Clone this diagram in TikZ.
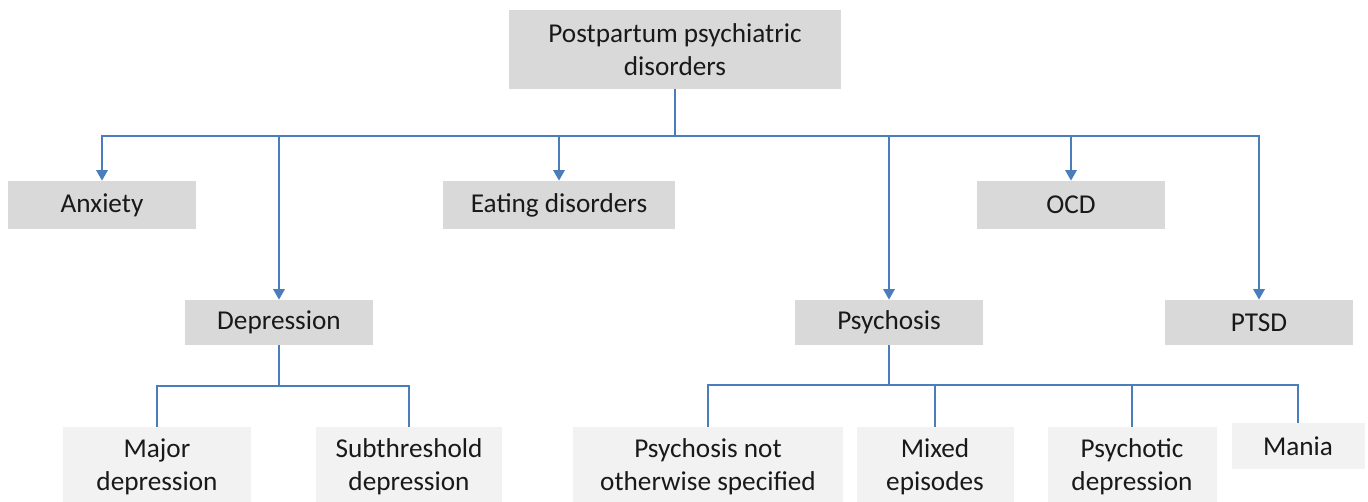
\documentclass[tikz,border=0pt]{standalone}
\usepackage{fontspec}
\setmainfont{Carlito}
\usetikzlibrary{positioning,arrows.meta}
\definecolor{lineblue}{HTML}{4A7EBB}
\definecolor{boxgray}{HTML}{D9D9D9}
\definecolor{leafgray}{HTML}{F2F2F2}
\begin{document}
\begin{tikzpicture}[x=0.02cm, y=-0.02cm,
    font=\fontsize{15.5}{18.8}\selectfont,
    bb/.style={%
      rectangle, draw=none, fill=boxgray, text=black!90,
      inner sep=0pt, align=center
    },
    leaf/.style={%
      bb, fill=leafgray
    },
    conn/.style={draw=lineblue, line width=1.1pt},
    arr/.style={conn, -{Triangle[width=6.5pt,length=6pt]}}
]
    \useasboundingbox (0,0) rectangle (1368,501);

    % top level
    \node[bb, minimum width=6.66cm, minimum height=1.58cm] (root) at (675,49.5)
      {Postpartum psychiatric\\disorders};

    % first row
    \node[bb, minimum width=3.76cm, minimum height=0.96cm] (anx) at (102,205)    {Anxiety};
    \node[bb, minimum width=4.66cm, minimum height=0.96cm] (eat) at (559,205)    {Eating disorders};
    \node[bb, minimum width=3.76cm, minimum height=0.96cm] (ocd) at (1071,205)   {OCD};

    % second row
    \node[bb, minimum width=3.76cm, minimum height=0.90cm] (dep)  at (279,322.5)  {Depression};
    \node[bb, minimum width=3.76cm, minimum height=0.90cm] (psy)  at (889,322.5)  {Psychosis};
    \node[bb, minimum width=3.76cm, minimum height=0.90cm] (ptsd) at (1259,322.5) {PTSD};

    % leaves
    \node[leaf, minimum width=3.76cm, minimum height=1.60cm] (major) at (157,467)    {Major\\depression};
    \node[leaf, minimum width=3.74cm, minimum height=1.60cm] (sub)   at (409,467)    {Subthreshold\\depression};
    \node[leaf, minimum width=5.42cm, minimum height=1.60cm] (pnos)  at (708,467)    {Psychosis not\\otherwise specified};
    \node[leaf, minimum width=3.14cm, minimum height=1.60cm] (mixed) at (935,467)    {Mixed\\episodes};
    \node[leaf, minimum width=3.38cm, minimum height=1.60cm] (psyd)  at (1132,467)   {Psychotic\\depression};
    \node[leaf, minimum width=2.66cm, minimum height=0.92cm] (mania) at (1298,446)   {Mania};

    \coordinate (rootbus) at (675,136);
    \coordinate (depbus)  at (279,386);
    \coordinate (psybus)  at (889,385);

    \draw[conn] (root.south) -- (rootbus);
    \foreach \n in {anx,eat,ocd,dep,psy,ptsd}
      \draw[arr] (rootbus) -| (\n);

    \draw[conn] (dep.south) -- (depbus);
    \foreach \n in {major,sub}
      \draw[conn] (depbus) -| (\n);

    \draw[conn] (psy.south) -- (psybus);
    \foreach \n in {pnos,mixed,psyd,mania}
      \draw[conn] (psybus) -| (\n);

\end{tikzpicture}
\end{document}
